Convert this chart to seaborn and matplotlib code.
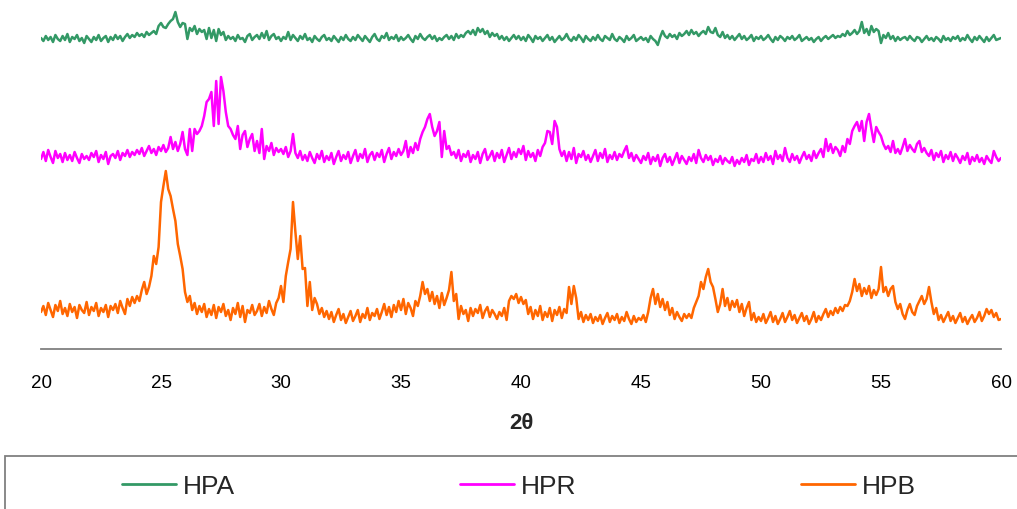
import numpy as np
import pandas as pd
import matplotlib
matplotlib.use("Agg")
import matplotlib.pyplot as plt
import matplotlib.patches as mpatches
import seaborn as sns

# 2-theta grid, 20..60 deg in 0.1 deg steps
two_theta = np.round(np.arange(200, 601) * 0.1, 1)

# intensities (arbitrary units), one row per degree
hpb = [
    22, 28, 19, 31, 24, 17, 29, 23, 33, 20,
    26, 18, 30, 22, 27, 16, 29, 24, 21, 32,
    19, 27, 23, 31, 18, 26, 22, 29, 17, 28,
    24, 30, 21, 33, 26, 20, 35, 28, 37, 31,
    38, 33, 44, 52, 40, 47, 58, 78, 70, 87,
    132, 148, 163, 145, 138, 125, 113, 90, 78, 65,
    42, 32, 38, 24, 31, 20, 28, 22, 30, 17,
    25, 19, 29, 16, 27, 22, 30, 18, 24, 14,
    26, 20, 31, 17, 28, 12, 24, 21, 29, 19,
    23, 30, 18, 27, 21, 33, 25, 19, 31, 36,
    48, 32, 58, 72, 85, 132, 102, 75, 98, 65,
    66, 28, 52, 24, 36, 30, 20, 26, 17, 23,
    15, 22, 12, 19, 25, 14, 20, 11, 17, 23,
    13, 18, 24, 12, 20, 16, 26, 14, 21, 18,
    25, 15, 22, 30, 19, 27, 17, 29, 22, 33,
    24, 35, 20, 31, 26, 18, 33, 28, 38, 52,
    40, 45, 33, 42, 30, 38, 26, 41, 29, 36,
    44, 62, 33, 40, 15, 28, 20, 24, 13, 26,
    18, 25, 21, 29, 16, 23, 27, 17, 24, 20,
    15, 22, 18, 26, 14, 33, 38, 35, 40, 31,
    37, 30, 34, 20, 27, 15, 24, 18, 28, 14,
    22, 17, 26, 13, 24, 19, 27, 16, 25, 21,
    47, 30, 48, 36, 15, 22, 12, 19, 14, 20,
    11, 17, 13, 19, 10, 16, 21, 12, 18, 14,
    20, 11, 17, 13, 22, 15, 10, 18, 12, 16,
    14, 19, 12, 22, 36, 45, 30, 40, 27, 35,
    24, 32, 19, 26, 15, 22, 17, 13, 20, 16,
    20, 16, 26, 32, 38, 52, 45, 57, 65, 52,
    47, 35, 22, 30, 45, 28, 36, 24, 33, 27,
    34, 22, 30, 18, 26, 32, 14, 21, 12, 17,
    13, 20, 11, 16, 22, 12, 18, 10, 15, 21,
    12, 17, 23, 14, 19, 11, 16, 21, 13, 18,
    10, 15, 22, 12, 18, 14, 20, 25, 17, 23,
    19, 26, 21, 27, 23, 29, 28, 33, 42, 55,
    43, 50, 38, 46, 40, 48, 36, 44, 39, 45,
    67, 42, 47, 38, 45, 48, 32, 25, 30, 20,
    15, 24, 30, 22, 19, 28, 33, 38, 30, 35,
    47, 32, 20, 26, 14, 19, 12, 17, 22, 13,
    18, 11, 16, 21, 12, 17, 10, 15, 19, 12,
    16, 22, 13, 18, 25, 20, 24, 17, 21, 14,
    15,
]

hpr = [
    20, 27, 18, 29, 22, 16, 28, 21, 25, 17,
    26, 19, 24, 18, 27, 21, 16, 25, 20, 23,
    19, 26, 22, 28, 17, 24, 20, 27, 15, 23,
    25, 21, 28, 19, 26, 23, 29, 22, 27, 24,
    29, 25, 31, 23, 28, 33, 26, 30, 24, 32,
    28, 34, 27, 31, 42, 30, 37, 28, 35, 47,
    30, 24, 50, 28, 50, 45, 48, 53, 63, 77,
    80, 87, 53, 98, 55, 102, 88, 67, 53, 50,
    44, 40, 53, 30, 44, 48, 32, 40, 45, 28,
    38, 26, 50, 20, 33, 28, 36, 24, 31, 27,
    30, 25, 32, 22, 28, 45, 26, 21, 28, 19,
    24, 18, 27, 21, 16, 25, 20, 28, 17, 23,
    19, 26, 15, 22, 28, 18, 24, 20, 27, 16,
    23, 29, 18, 25, 21, 30, 17, 24, 27, 19,
    26, 22, 29, 17, 25, 31, 20, 27, 23, 30,
    24, 28, 38, 22, 32, 26, 36, 29, 40, 47,
    52, 60, 65, 52, 43, 48, 57, 22, 48, 30,
    33, 24, 27, 21, 29, 18, 25, 22, 28, 17,
    24, 20, 27, 16, 25, 30, 19, 23, 28, 18,
    26, 21, 29, 17, 24, 31, 20, 27, 22, 30,
    25, 33, 19, 28, 22, 26, 18, 29, 23, 32,
    36, 48, 47, 35, 58, 52, 30, 23, 28, 18,
    27, 20, 31, 16, 25, 22, 28, 19, 24, 17,
    23, 29, 18, 26, 21, 30, 17, 24, 20, 27,
    19, 25, 22, 28, 33, 21, 26, 18, 24, 20,
    16, 23, 19, 26, 15, 22, 18, 24, 13, 21,
    25, 17, 22, 14, 20, 26, 16, 23, 19, 15,
    22, 18, 25, 16, 29, 21, 17, 24, 19, 23,
    14, 20, 17, 23, 15, 21, 18, 16, 22, 13,
    19, 15, 21, 17, 24, 14, 20, 18, 25, 16,
    22, 17, 26, 19, 23, 15, 28, 20, 24, 18,
    31, 21, 17, 25, 19, 23, 16, 22, 27, 20,
    24, 18, 28, 21, 26, 30, 22, 40, 28, 35,
    26, 32, 29, 23, 33, 27, 40, 35, 48, 53,
    57, 48, 58, 38, 57, 65, 50, 37, 52, 47,
    43, 35, 30, 33, 27, 38, 26, 30, 25, 32,
    40, 28, 34, 30, 27, 35, 38, 27, 31, 26,
    23, 29, 19, 26, 22, 28, 17, 24, 20, 27,
    18, 25, 21, 16, 23, 19, 26, 15, 22, 18,
    24, 17, 21, 15, 23, 19, 16, 28, 22, 18,
    21,
]

hpa = [
    21, 18, 23, 19, 22, 17, 24, 20, 18, 23,
    19, 25, 17, 22, 20, 24, 18, 21, 16, 23,
    20, 17, 22, 19, 24, 18, 21, 23, 17, 22,
    19, 24, 20, 23, 18, 22, 25, 21, 24, 22,
    26, 23, 25, 22, 27, 24, 26, 28, 25, 33,
    36, 32, 31, 35, 38, 40, 47, 37, 32, 36,
    35, 20, 31, 28, 33, 25, 30, 27, 29, 20,
    31, 21, 29, 18, 30, 24, 27, 19, 23, 20,
    22, 18, 24, 20, 21, 17, 23, 25, 19, 22,
    24, 20, 26, 21, 28, 19, 23, 25, 20, 22,
    18, 22, 20, 27, 19, 24, 21, 18, 23, 20,
    25, 19, 21, 17, 23, 20, 18, 22, 24, 19,
    21, 18, 23, 20, 17, 22, 19, 24, 20, 18,
    22, 19, 24, 21, 18, 23, 20, 17, 22, 25,
    20, 18, 23, 21, 26, 19, 22, 20, 24, 18,
    22, 19, 21, 24, 20, 17, 23, 20, 25, 21,
    19, 22, 24, 20, 23, 18, 21, 19, 22, 24,
    20, 23, 19, 25, 21, 24, 22, 26, 28, 25,
    29, 24, 31, 27, 30, 25, 28, 22, 26, 23,
    25, 20, 23, 19, 22, 18, 21, 24, 20, 23,
    19, 22, 18, 24, 21, 17, 23, 20, 22, 18,
    21, 24, 19, 22, 17, 20, 23, 19, 21, 25,
    20, 18, 22, 19, 24, 21, 17, 23, 20, 18,
    22, 19, 24, 20, 18, 23, 21, 19, 25, 20,
    18, 22, 20, 17, 23, 19, 21, 24, 18, 20,
    22, 19, 21, 17, 23, 20, 18, 14, 22, 28,
    23, 21, 25, 22, 24, 20, 26, 23, 25, 28,
    24, 29, 25, 27, 23, 26, 28, 25, 32, 27,
    26, 31, 24, 22, 27, 21, 24, 20, 23, 19,
    22, 25, 20, 23, 19, 21, 24, 18, 22, 20,
    23, 19, 21, 24, 20, 17, 22, 19, 23, 21,
    18, 22, 20, 23, 19, 21, 24, 18, 20, 22,
    19, 21, 17, 20, 22, 18, 21, 23, 20, 22,
    24, 21, 23, 22, 25, 23, 28, 24, 26, 29,
    25, 28, 37, 26, 30, 24, 33, 27, 30, 28,
    16, 24, 21, 26, 20, 23, 18, 22, 19, 21,
    22, 19, 23, 20, 18, 22, 21, 17, 20, 23,
    19, 21, 18, 22, 20, 17, 23, 19, 21, 18,
    22, 20, 23, 18, 21, 19, 24, 20, 17, 22,
    19, 23, 20, 17, 22, 18, 21, 24, 19, 20,
    21,
]

samples = ["HPA", "HPR", "HPB"]
colors = {"HPA": "#339966", "HPR": "#FF00FF", "HPB": "#FF6600"}
# vertical stacking offsets for the patterns
offsets = {"HPA": 290, "HPR": 170, "HPB": 15}

frames = []
for name, vals in zip(samples, [hpa, hpr, hpb]):
    frames.append(pd.DataFrame({"two_theta": two_theta,
                                "intensity": np.array(vals) + offsets[name],
                                "sample": name}))
df = pd.concat(frames, ignore_index=True)

sns.set_style("white")
plt.rcParams["font.family"] = ["Liberation Sans", "DejaVu Sans"]

fig = plt.figure(figsize=(10.17, 5.10), dpi=100)
ax = fig.add_axes([41 / 1017, 160 / 510, 960 / 1017, 350 / 510])

sns.lineplot(data=df, x="two_theta", y="intensity", hue="sample",
             hue_order=samples, palette=colors, estimator=None,
             linewidth=1.8, legend=False, ax=ax)

ax.set_xlim(20, 60)
ax.set_ylim(0, 350)
ax.set_xticks(range(20, 61, 5))
ax.set_yticks([])
ax.set_ylabel("")
for s in ["top", "right", "left"]:
    ax.spines[s].set_visible(False)
ax.spines["bottom"].set_color("#808080")
ax.spines["bottom"].set_linewidth(1.3)
ax.tick_params(axis="x", direction="out", length=5, width=1.1,
               color="#606060", pad=13, labelsize=13.5, labelcolor="black")

ax.set_xlabel("2θ", fontsize=16, fontweight="bold")
ax.xaxis.set_label_coords(0.5, -0.211)
ax.xaxis.label.set_va("center")

# legend strip at the bottom
box = mpatches.Rectangle((5 / 1017, -0.05), 1.0, 0.05 + 53 / 510,
                         transform=fig.transFigure, fill=False,
                         edgecolor="#808080", linewidth=1.3, clip_on=False)
fig.patches.append(box)

handles = [plt.Line2D([], [], color=colors[n], linewidth=2) for n in samples]
fig.legend(handles, samples, loc="center left", ncol=3, frameon=False,
           bbox_to_anchor=(122 / 1017, 23 / 510), fontsize=19,
           handlelength=2.05, handletextpad=0.27, columnspacing=8.5,
           borderpad=0, borderaxespad=0)

fig.savefig("out.png", dpi=100)
